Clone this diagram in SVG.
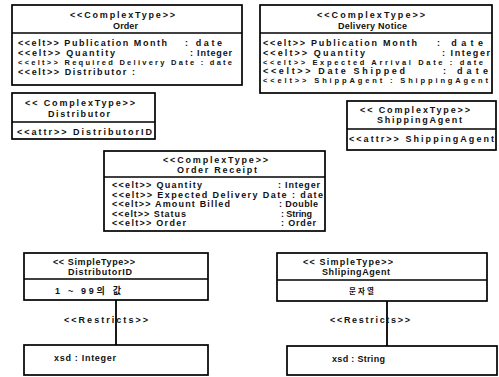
<svg xmlns="http://www.w3.org/2000/svg" width="499" height="377" viewBox="0 0 499 377">
<style>
rect.box{fill:#fff;stroke:#000;stroke-width:1.7}
line.div{stroke:#000;stroke-width:1.3}
line.conn{stroke:#000;stroke-width:1.8}
text{font-family:"Liberation Sans","Noto Sans CJK KR",sans-serif;font-weight:bold;font-size:9px;fill:#111}
text.s{font-size:7.5px}
text.k{font-size:7.5px}
</style>
<rect width="499" height="377" fill="#fff"/>
<g id="order">
<rect class="box" x="12" y="5" width="230" height="80"/>
<line class="div" x1="12" y1="33" x2="242" y2="33"/>
<text x="70" y="18" textLength="105" lengthAdjust="spacing">&lt;&lt;ComplexType&gt;&gt;</text>
<text x="113" y="29" textLength="25" lengthAdjust="spacing">Order</text>
<text x="18" y="46" textLength="149" lengthAdjust="spacing">&lt;&lt;elt&gt;&gt; Publication Month</text>
<text x="185" y="46" textLength="37" lengthAdjust="spacing">: date</text>
<text x="18" y="56" textLength="97" lengthAdjust="spacing">&lt;&lt;elt&gt;&gt; Quantity</text>
<text x="190" y="56" textLength="42" lengthAdjust="spacing">: Integer</text>
<text class="s" x="18" y="65" textLength="214" lengthAdjust="spacing">&lt;&lt;elt&gt;&gt; Required Delivery Date : date</text>
<text x="18" y="75" textLength="117" lengthAdjust="spacing">&lt;&lt;elt&gt;&gt; Distributor :</text>
</g>
<g id="deliveryNotice">
<rect class="box" x="260" y="5" width="232" height="88"/>
<line class="div" x1="260" y1="33" x2="492" y2="33"/>
<text x="317" y="18" textLength="108" lengthAdjust="spacing">&lt;&lt;ComplexType&gt;&gt;</text>
<text x="338" y="29" textLength="69" lengthAdjust="spacing">Delivery Notice</text>
<text x="263" y="46" textLength="154" lengthAdjust="spacing">&lt;&lt;elt&gt;&gt; Publication Month</text>
<text x="437" y="46" textLength="46" lengthAdjust="spacing">: date</text>
<text x="263" y="56" textLength="102" lengthAdjust="spacing">&lt;&lt;elt&gt;&gt; Quantity</text>
<text x="442" y="56" textLength="48" lengthAdjust="spacing">: Integer</text>
<text class="s" x="263" y="65" textLength="220" lengthAdjust="spacing">&lt;&lt;elt&gt;&gt; Expected Arrival Date : date</text>
<text x="263" y="74" textLength="142" lengthAdjust="spacing">&lt;&lt;elt&gt;&gt; Date Shipped</text>
<text x="443" y="74" textLength="45" lengthAdjust="spacing">: date</text>
<text class="s" x="263" y="83" textLength="225" lengthAdjust="spacing">&lt;&lt;elt&gt;&gt; ShippAgent : ShippingAgent</text>
</g>
<g id="distributor">
<rect class="box" x="12" y="93" width="143" height="46"/>
<line class="div" x1="12" y1="122" x2="155" y2="122"/>
<text x="25" y="106" textLength="110" lengthAdjust="spacing">&lt;&lt; ComplexType&gt;&gt;</text>
<text x="48" y="117" textLength="62" lengthAdjust="spacing">Distributor</text>
<text x="17" y="135" textLength="135" lengthAdjust="spacing">&lt;&lt;attr&gt;&gt; DistributorID</text>
</g>
<g id="shippingAgent">
<rect class="box" x="347" y="101" width="149" height="49"/>
<line class="div" x1="347" y1="129" x2="496" y2="129"/>
<text x="360" y="113" textLength="110" lengthAdjust="spacing">&lt;&lt; ComplexType&gt;&gt;</text>
<text x="377" y="123" textLength="85" lengthAdjust="spacing">ShippingAgent</text>
<text x="349" y="142" textLength="145" lengthAdjust="spacing">&lt;&lt;attr&gt;&gt; ShippingAgent</text>
</g>
<g id="orderReceipt">
<rect class="box" x="104" y="151" width="221" height="80"/>
<line class="div" x1="104" y1="177" x2="325" y2="177"/>
<text x="163" y="163" textLength="105" lengthAdjust="spacing">&lt;&lt;ComplexType&gt;&gt;</text>
<text x="177" y="173" textLength="80" lengthAdjust="spacing">Order Receipt</text>
<text x="112" y="188" textLength="90" lengthAdjust="spacing">&lt;&lt;elt&gt;&gt; Quantity</text>
<text x="278" y="188" textLength="42" lengthAdjust="spacing">: Integer</text>
<text x="112" y="198" textLength="211" lengthAdjust="spacing">&lt;&lt;elt&gt;&gt; Expected Delivery Date : date</text>
<text x="112" y="207" textLength="118" lengthAdjust="spacing">&lt;&lt;elt&gt;&gt; Amount Billed</text>
<text x="279" y="207" textLength="39" lengthAdjust="spacing">: Double</text>
<text x="112" y="217" textLength="74" lengthAdjust="spacing">&lt;&lt;elt&gt;&gt; Status</text>
<text x="281" y="217" textLength="31" lengthAdjust="spacing">: String</text>
<text x="112" y="226" textLength="74" lengthAdjust="spacing">&lt;&lt;elt&gt;&gt; Order</text>
<text x="281" y="226" textLength="35" lengthAdjust="spacing">: Order</text>
</g>
<g id="distributorID">
<rect class="box" x="24" y="253" width="184" height="47"/>
<line class="div" x1="24" y1="279" x2="208" y2="279"/>
<text x="53" y="265" textLength="82" lengthAdjust="spacing">&lt;&lt; SimpleType&gt;&gt;</text>
<text x="68" y="275" textLength="64" lengthAdjust="spacing">DistributorID</text>
<text x="55" y="294" textLength="66" lengthAdjust="spacing">1 ~ 99의 값</text>
</g>
<g id="xsdInteger">
<rect class="box" x="24" y="345" width="184" height="30"/>
<text x="54" y="361" textLength="62" lengthAdjust="spacing">xsd : Integer</text>
</g>
<g id="shlipingAgent">
<rect class="box" x="277" y="253" width="210" height="48"/>
<line class="div" x1="277" y1="280" x2="487" y2="280"/>
<text x="303" y="265" textLength="90" lengthAdjust="spacing">&lt;&lt; SimpleType&gt;&gt;</text>
<text x="322" y="275" textLength="68" lengthAdjust="spacing">ShlipingAgent</text>
<text class="k" x="349" y="294" textLength="25" lengthAdjust="spacing">문자열</text>
</g>
<g id="xsdString">
<rect class="box" x="287" y="346" width="210" height="29"/>
<text x="332" y="362" textLength="53" lengthAdjust="spacing">xsd : String</text>
</g>
<g id="connectors">
<line class="conn" x1="116" y1="300" x2="116" y2="345"/>
<text x="64" y="323" textLength="84" lengthAdjust="spacing">&lt;&lt;Restricts&gt;&gt;</text>
<line class="conn" x1="387" y1="301" x2="387" y2="346"/>
<text x="330" y="323" textLength="80" lengthAdjust="spacing">&lt;&lt;Restricts&gt;&gt;</text>
</g>
</svg>
